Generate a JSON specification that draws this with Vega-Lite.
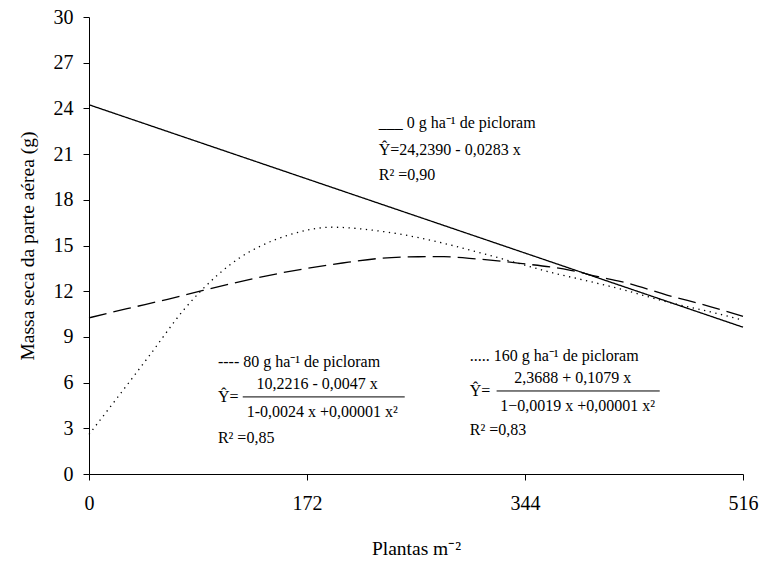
{
  "$schema": "https://vega.github.io/schema/vega-lite/v6.json",
  "width": 654,
  "height": 457,
  "autosize": {"type": "none"},
  "padding": {"left": 89, "top": 17, "right": 16, "bottom": 96},
  "background": "white",
  "config": {
    "view": {"stroke": null},
    "font": "Liberation Serif",
    "axis": {
      "domainColor": "black",
      "tickColor": "black",
      "labelColor": "black",
      "titleColor": "black",
      "labelFont": "Liberation Serif",
      "titleFont": "Liberation Serif",
      "labelFontSize": 20,
      "titleFontSize": 19.5,
      "titleFontWeight": "normal",
      "grid": false,
      "tickSize": 6,
      "domainWidth": 1,
      "tickWidth": 1
    }
  },
  "layer": [
    {
      "data": {
        "values": [
          {"series": "0", "x": 0, "y": 24.239},
          {"series": "0", "x": 516, "y": 9.636},
          {"series": "80", "x": 0, "y": 10.25},
          {"series": "80", "x": 30, "y": 10.85},
          {"series": "80", "x": 62, "y": 11.47},
          {"series": "80", "x": 90, "y": 12.05},
          {"series": "80", "x": 131, "y": 12.85},
          {"series": "80", "x": 172, "y": 13.5},
          {"series": "80", "x": 200, "y": 13.85},
          {"series": "80", "x": 229, "y": 14.15},
          {"series": "80", "x": 260, "y": 14.26},
          {"series": "80", "x": 280, "y": 14.27},
          {"series": "80", "x": 300, "y": 14.16},
          {"series": "80", "x": 340, "y": 13.83},
          {"series": "80", "x": 379, "y": 13.39},
          {"series": "80", "x": 403, "y": 12.93},
          {"series": "80", "x": 419, "y": 12.65},
          {"series": "80", "x": 456, "y": 11.75},
          {"series": "80", "x": 490, "y": 10.99},
          {"series": "80", "x": 516, "y": 10.35},
          {"series": "160", "x": 0, "y": 2.6},
          {"series": "160", "x": 23, "y": 5.08},
          {"series": "160", "x": 49, "y": 7.92},
          {"series": "160", "x": 75, "y": 10.8},
          {"series": "160", "x": 102, "y": 13.1},
          {"series": "160", "x": 119, "y": 14.2},
          {"series": "160", "x": 135, "y": 14.95},
          {"series": "160", "x": 158, "y": 15.7},
          {"series": "160", "x": 192, "y": 16.2},
          {"series": "160", "x": 229, "y": 15.95},
          {"series": "160", "x": 261, "y": 15.5},
          {"series": "160", "x": 277, "y": 15.2},
          {"series": "160", "x": 314, "y": 14.4},
          {"series": "160", "x": 340, "y": 13.8},
          {"series": "160", "x": 366, "y": 13.2},
          {"series": "160", "x": 392, "y": 12.7},
          {"series": "160", "x": 419, "y": 12.15},
          {"series": "160", "x": 456, "y": 11.3},
          {"series": "160", "x": 490, "y": 10.65},
          {"series": "160", "x": 516, "y": 10.1}
        ]
      },
      "mark": {"type": "line", "color": "black", "strokeWidth": 1.3, "interpolate": "monotone"},
      "encoding": {
        "x": {
          "field": "x", "type": "quantitative",
          "scale": {"domain": [0, 516], "nice": false, "zero": false},
          "axis": {"values": [0, 172, 344, 516], "title": "Plantas m⁻²", "labelPadding": 13, "titlePadding": 26, "labelFlush": false}
        },
        "y": {
          "field": "y", "type": "quantitative",
          "scale": {"domain": [0, 30], "nice": false},
          "axis": {"values": [0, 3, 6, 9, 12, 15, 18, 21, 24, 27, 30], "title": "Massa seca da parte aérea (g)", "labelPadding": 10, "titlePadding": 16}
        },
        "detail": {"field": "series"},
        "strokeDash": {
          "field": "series", "type": "nominal",
          "scale": {"domain": ["0", "80", "160"], "range": [[1, 0], [18, 7], [1.3, 4.5]]},
          "legend": null
        }
      }
    },
    {
      "data": {
        "values": [
          {"x": 228.6, "y": 23.05, "t": "___  0 g ha⁻¹ de  picloram"},
          {"x": 228.6, "y": 21.27, "t": "Ŷ=24,2390 - 0,0283 x"},
          {"x": 228.6, "y": 19.63, "t": "R² =0,90"},
          {"x": 101.7, "y": 7.35, "t": "---- 80 g ha⁻¹ de  picloram"},
          {"x": 101.7, "y": 5.06, "t": "Ŷ="},
          {"x": 101.7, "y": 2.36, "t": "R² =0,85"},
          {"x": 300.4, "y": 7.75, "t": "..... 160 g ha⁻¹ de  picloram"},
          {"x": 300.4, "y": 5.45, "t": "Ŷ="},
          {"x": 300.4, "y": 2.89, "t": "R² =0,83"}
        ]
      },
      "mark": {"type": "text", "align": "left", "baseline": "middle", "font": "Liberation Serif", "fontSize": 16, "color": "black"},
      "encoding": {
        "x": {"field": "x", "type": "quantitative"},
        "y": {"field": "y", "type": "quantitative"},
        "text": {"field": "t"}
      }
    },
    {
      "data": {
        "values": [
          {"x": 180, "y": 5.94, "t": "10,2216 - 0,0047 x"},
          {"x": 184, "y": 4.07, "t": "1-0,0024 x +0,00001 x²"},
          {"x": 381.6, "y": 6.33, "t": "2,3688 + 0,1079 x"},
          {"x": 385.6, "y": 4.46, "t": "1−0,0019 x +0,00001 x²"}
        ]
      },
      "mark": {"type": "text", "align": "center", "baseline": "middle", "font": "Liberation Serif", "fontSize": 16, "color": "black"},
      "encoding": {
        "x": {"field": "x", "type": "quantitative"},
        "y": {"field": "y", "type": "quantitative"},
        "text": {"field": "t"}
      }
    },
    {
      "data": {
        "values": [
          {"x": 121.3, "x2": 249.1, "y": 5.06},
          {"x": 321.6, "x2": 450.3, "y": 5.45}
        ]
      },
      "mark": {"type": "rule", "color": "black", "strokeWidth": 1},
      "encoding": {
        "x": {"field": "x", "type": "quantitative"},
        "x2": {"field": "x2"},
        "y": {"field": "y", "type": "quantitative"}
      }
    }
  ]
}
